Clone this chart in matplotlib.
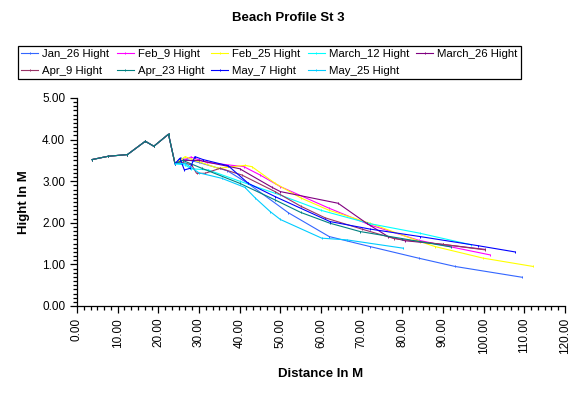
import matplotlib
matplotlib.use('Agg')
import matplotlib.pyplot as plt
from matplotlib.ticker import MultipleLocator, FormatStrFormatter

plt.rcParams['font.family'] = ['Liberation Sans', 'DejaVu Sans']

# shared start of the profile (benchmark end)
start_x = [3.7, 7.7, 12.4, 16.8, 18.9, 22.5, 24.1]
start_y = [3.52, 3.60, 3.64, 3.96, 3.84, 4.13, 3.42]

jan26_x = start_x + [25.5, 30, 37, 42, 52, 62, 72, 84, 93, 109.5]
jan26_y = start_y + [3.55, 3.45, 3.25, 2.95, 2.24, 1.67, 1.43, 1.15, 0.95, 0.69]

feb9_x = start_x + [26, 28, 32, 41, 45, 50, 62, 72, 84, 101.5]
feb9_y = start_y + [3.5, 3.58, 3.45, 3.35, 3.15, 2.87, 2.35, 1.95, 1.58, 1.23]

feb25_x = start_x + [26.6, 29, 34.7, 41.3, 43, 48.7, 55, 62, 72, 84.3, 88, 99.9, 112.2]
feb25_y = start_y + [3.59, 3.5, 3.31, 3.38, 3.35, 2.95, 2.6, 2.3, 1.99, 1.55, 1.43, 1.15, 0.95]

mar12_x = start_x + [26.6, 28, 32.3, 40, 49.9, 60, 72, 84.3, 97]
mar12_y = start_y + [3.39, 3.3, 3.27, 3.0, 2.67, 2.3, 1.98, 1.75, 1.47]

mar26_x = start_x + [26, 30, 40, 48, 50, 64.2, 71.2, 76.5, 80.6, 90, 100.3]
mar26_y = start_y + [3.5, 3.5, 3.3, 2.85, 2.75, 2.47, 1.99, 1.67, 1.57, 1.48, 1.36]

apr9_x = start_x + [26, 28.2, 29.4, 31.5, 35.2, 40.5, 48.7, 55, 61, 70, 78, 90, 100.3]
apr9_y = start_y + [3.45, 3.39, 3.19, 3.19, 3.31, 3.15, 2.75, 2.4, 2.12, 1.85, 1.62, 1.48, 1.35]

apr23_x = start_x + [26, 30.7, 40, 48.7, 55, 62.2, 69.6, 80, 92]
apr23_y = start_y + [3.5, 3.31, 2.95, 2.55, 2.25, 1.99, 1.79, 1.62, 1.42]

may7_x = [24.1, 25.3, 26.4, 27.8, 29, 31, 37.2, 42.1, 48.7, 62.2, 72, 84.3, 98.6, 107.7]
may7_y = [3.42, 3.55, 3.27, 3.31, 3.59, 3.52, 3.37, 2.95, 2.63, 2.03, 1.85, 1.67, 1.45, 1.30]

may25_x = [24.1, 26.6, 30, 35.6, 41.3, 43.8, 47.5, 50, 60.2, 66.3, 80.2]
may25_y = [3.42, 3.43, 3.2, 3.07, 2.85, 2.6, 2.27, 2.08, 1.63, 1.59, 1.39]

names = ['Jan_26 Hight', 'Feb_9 Hight', 'Feb_25 Hight', 'March_12 Hight', 'March_26 Hight',
         'Apr_9 Hight', 'Apr_23 Hight', 'May_7 Hight', 'May_25 Hight']
xs = [jan26_x, feb9_x, feb25_x, mar12_x, mar26_x, apr9_x, apr23_x, may7_x, may25_x]
ys = [jan26_y, feb9_y, feb25_y, mar12_y, mar26_y, apr9_y, apr23_y, may7_y, may25_y]
colors = ['#3366FF', '#FF00FF', '#FFFF00', '#00FFFF', '#800080',
          '#993366', '#008080', '#0000FF', '#00CCFF']

fig = plt.figure(figsize=(5.76, 3.94), dpi=100)
ax = fig.add_axes([77/576, 1-306/394, (565-77)/576, (306-98)/394])

lines = []
for x, y, c, n in zip(xs, ys, colors, names):
    l, = ax.plot(x, y, color=c, lw=0.8, marker='|', ms=1.6, mew=0.7, label=n)
    lines.append(l)

ax.set_xlim(0, 120)
ax.set_ylim(0, 5)
ax.xaxis.set_major_locator(MultipleLocator(10))
ax.xaxis.set_minor_locator(MultipleLocator(10/6))
ax.yaxis.set_major_locator(MultipleLocator(1))
ax.yaxis.set_minor_locator(MultipleLocator(0.1))
ax.xaxis.set_major_formatter(FormatStrFormatter('%.2f'))
ax.yaxis.set_major_formatter(FormatStrFormatter('%.2f'))
ax.tick_params(which='major', length=5, width=0.9, labelsize=8.5, color='black')
ax.tick_params(which='minor', length=3, width=0.9, color='black')
ax.tick_params(axis='x', labelrotation=90)
ax.spines['top'].set_visible(False)
ax.spines['right'].set_visible(False)
ax.spines['left'].set_linewidth(0.9)
ax.spines['bottom'].set_linewidth(0.9)

ax.set_xlabel('Distance In M', fontsize=9.5, fontweight='bold', labelpad=10)
ax.set_ylabel('Hight In M', fontsize=9.5, fontweight='bold', labelpad=9)

fig.text(0.5, 1-18/394, 'Beach Profile St 3', ha='center', va='center',
         fontsize=9.5, fontweight='bold')

order = [0, 5, 1, 6, 2, 7, 3, 8, 4]
leg = fig.legend([lines[i] for i in order], [names[i] for i in order],
                 loc='center', bbox_to_anchor=(18/576, 1-79/394, 503/576, 33/394),
                 mode='expand', ncol=5, fontsize=8.2, frameon=True, fancybox=False,
                 edgecolor='black', framealpha=1, handlelength=1.5, handletextpad=0.35,
                 borderpad=0.3, labelspacing=0.55, borderaxespad=0)
leg.get_frame().set_linewidth(0.9)

fig.savefig('out.png', dpi=100)
